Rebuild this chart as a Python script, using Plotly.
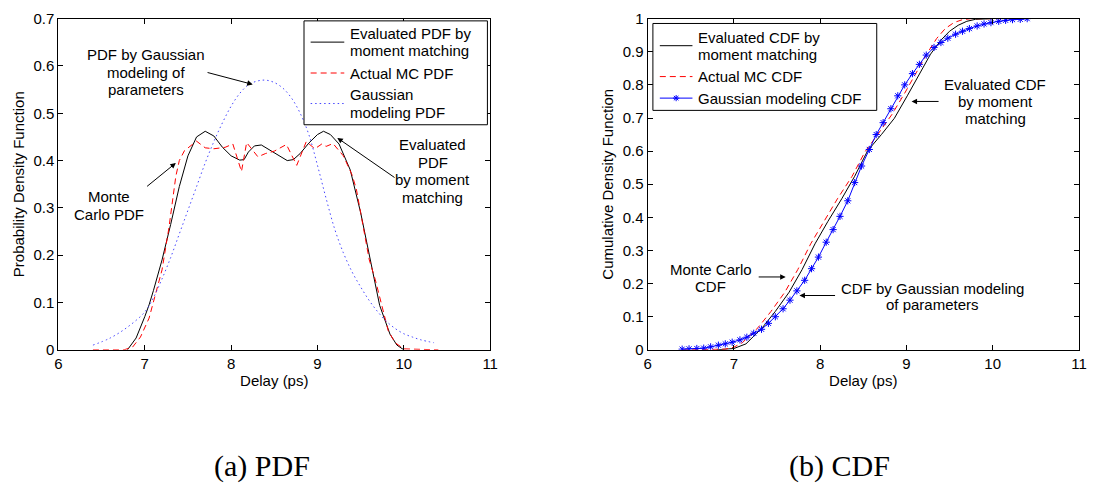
import plotly.graph_objects as go

# ---------------- data ----------------
pdf_eval_x = [6.8, 6.9, 7.0, 7.05, 7.1, 7.2, 7.3, 7.4, 7.5, 7.6, 7.7, 7.8, 7.9, 8.0, 8.1, 8.15,
              8.2, 8.27, 8.35, 8.45, 8.55, 8.65, 8.72, 8.8, 8.9, 9.0, 9.07, 9.15, 9.25, 9.38,
              9.5, 9.61, 9.72, 9.84, 9.92, 10.0]
pdf_eval_y = [0, 0.025, 0.07, 0.095, 0.125, 0.19, 0.265, 0.345, 0.41, 0.45, 0.462, 0.452, 0.428,
              0.41, 0.401, 0.402, 0.418, 0.431, 0.433, 0.422, 0.41, 0.40, 0.402, 0.415, 0.437,
              0.455, 0.462, 0.455, 0.435, 0.38, 0.29, 0.19, 0.094, 0.033, 0.01, 0]

pdf_mc_x = [6.4, 6.76, 6.86, 6.95, 7.05, 7.13, 7.2, 7.28, 7.36, 7.4, 7.46, 7.6, 7.7, 7.8, 7.93,
            8.02, 8.12, 8.18, 8.31, 8.4, 8.5, 8.64, 8.76, 8.87, 8.97, 9.05, 9.1, 9.18, 9.3, 9.4,
            9.45, 9.5, 9.6, 9.67, 9.75, 9.82, 9.9, 10.0, 10.4]
pdf_mc_y = [0, 0, 0.006, 0.027, 0.067, 0.122, 0.169, 0.258, 0.367, 0.40, 0.421, 0.441, 0.427,
            0.425, 0.428, 0.435, 0.377, 0.438, 0.408, 0.415, 0.42, 0.434, 0.39, 0.44, 0.425,
            0.435, 0.43, 0.436, 0.41, 0.37, 0.34, 0.29, 0.19, 0.148, 0.09, 0.04, 0.015, 0.002, 0]

pdf_gauss_x = [6.4, 6.6, 6.8, 7.0, 7.1, 7.2, 7.3, 7.4, 7.5, 7.6, 7.7, 7.8, 7.9, 8.0, 8.1, 8.2,
               8.3, 8.4, 8.5, 8.6, 8.7, 8.8, 8.9, 9.0, 9.1, 9.2, 9.3, 9.4, 9.5, 9.6, 9.7, 9.8,
               9.9, 10.0, 10.1, 10.2, 10.35]
pdf_gauss_y = [0.01, 0.025, 0.048, 0.08, 0.11, 0.15, 0.195, 0.245, 0.295, 0.345, 0.395, 0.44,
               0.48, 0.515, 0.542, 0.56, 0.568, 0.57, 0.565, 0.553, 0.532, 0.50, 0.455, 0.39,
               0.32, 0.255, 0.205, 0.165, 0.133, 0.104, 0.08, 0.06, 0.045, 0.034, 0.027, 0.021,
               0.015]

cdf_eval_x = [6.8, 6.95, 7.0, 7.14, 7.33, 7.48, 7.64, 7.79, 7.94, 8.09, 8.25, 8.40, 8.55, 8.71,
              8.86, 9.01, 9.16, 9.28, 9.4, 9.5, 9.6, 9.7, 9.8, 9.9, 10.0]
cdf_eval_y = [0, 0.002, 0.004, 0.018, 0.067, 0.116, 0.174, 0.242, 0.32, 0.388, 0.456, 0.524,
              0.601, 0.65, 0.699, 0.767, 0.835, 0.893, 0.935, 0.962, 0.98, 0.992, 0.998, 1.0, 1.0]

cdf_mc_x = [6.4, 6.8, 6.9, 7.0, 7.1, 7.28, 7.43, 7.59, 7.74, 7.89, 8.04, 8.2, 8.37, 8.52, 8.68,
            8.83, 8.98, 9.12, 9.24, 9.35, 9.45, 9.55, 9.65, 9.75, 10.35]
cdf_mc_y = [0, 0, 0.002, 0.008, 0.022, 0.067, 0.116, 0.174, 0.242, 0.32, 0.388, 0.456, 0.524,
            0.598, 0.655, 0.71, 0.775, 0.84, 0.895, 0.94, 0.97, 0.988, 0.997, 1.0, 1.0]

cdf_gauss_x = [6.40, 6.48, 6.57, 6.65, 6.73, 6.82, 6.90, 6.98, 7.07, 7.15, 7.23, 7.32, 7.40,
               7.48, 7.57, 7.65, 7.73, 7.82, 7.90, 7.98, 8.07, 8.15, 8.23, 8.32, 8.40, 8.48,
               8.57, 8.65, 8.73, 8.82, 8.90, 8.98, 9.07, 9.15, 9.23, 9.32, 9.40, 9.48, 9.57,
               9.65, 9.73, 9.82, 9.90, 9.98, 10.07, 10.15, 10.23, 10.32, 10.40]
cdf_gauss_y = [0.002, 0.003, 0.004, 0.005, 0.009, 0.014, 0.018, 0.023, 0.03, 0.038, 0.05, 0.062,
               0.08, 0.1, 0.124, 0.15, 0.178, 0.21, 0.245, 0.28, 0.325, 0.363, 0.403, 0.45,
               0.505, 0.555, 0.605, 0.65, 0.686, 0.728, 0.767, 0.8, 0.834, 0.862, 0.89, 0.913,
               0.928, 0.941, 0.953, 0.962, 0.97, 0.978, 0.984, 0.988, 0.992, 0.995, 0.997,
               0.998, 1.0]

x_ticks = [6, 7, 8, 9, 10, 11]
pdf_ticks = [0, 0.1, 0.2, 0.3, 0.4, 0.5, 0.6, 0.7]
pdf_tick_text = ["0", "0.1", "0.2", "0.3", "0.4", "0.5", "0.6", "0.7"]
cdf_ticks = [0, 0.1, 0.2, 0.3, 0.4, 0.5, 0.6, 0.7, 0.8, 0.9, 1.0]
cdf_tick_text = ["0", "0.1", "0.2", "0.3", "0.4", "0.5", "0.6", "0.7", "0.8", "0.9", "1"]

pdf_names = ["Evaluated PDF by|moment matching", "Actual MC PDF", "Gaussian|modeling PDF"]
cdf_names = ["Evaluated CDF by|moment matching", "Actual MC CDF", "Gaussian modeling CDF"]

# ---------------- figure ----------------
W, H = 1108, 493
FONT = "Liberation Sans, Arial, Helvetica, sans-serif"
FS = 15
BLACK, RED, BLUE, LBLUE = "black", "red", "blue", "rgb(70,70,255)"
DASH, DOT = "6px,4px", "1.5px,3px"


def px_x(p):
    return p / W


def px_y(p):
    return (H - p) / H


fig = go.Figure()

fig.add_trace(go.Scatter(x=pdf_eval_x, y=pdf_eval_y, mode="lines",
                         line=dict(color=BLACK, width=1), name=pdf_names[0].replace("|", " "),
                         xaxis="x", yaxis="y"))
fig.add_trace(go.Scatter(x=pdf_mc_x, y=pdf_mc_y, mode="lines",
                         line=dict(color=RED, width=1, dash=DASH), name=pdf_names[1],
                         xaxis="x", yaxis="y"))
fig.add_trace(go.Scatter(x=pdf_gauss_x, y=pdf_gauss_y, mode="lines", line_shape="spline",
                         line=dict(color=LBLUE, width=1, dash=DOT),
                         name=pdf_names[2].replace("|", " "), xaxis="x", yaxis="y"))

fig.add_trace(go.Scatter(x=cdf_eval_x, y=cdf_eval_y, mode="lines",
                         line=dict(color=BLACK, width=1), name=cdf_names[0].replace("|", " "),
                         xaxis="x2", yaxis="y2"))
fig.add_trace(go.Scatter(x=cdf_mc_x, y=cdf_mc_y, mode="lines",
                         line=dict(color=RED, width=1, dash=DASH), name=cdf_names[1],
                         xaxis="x2", yaxis="y2"))
fig.add_trace(go.Scatter(x=cdf_gauss_x, y=cdf_gauss_y, mode="lines+markers",
                         line=dict(color=BLUE, width=1),
                         marker=dict(symbol="asterisk-open", size=6, color=BLUE,
                                     line=dict(color=BLUE, width=1)),
                         name=cdf_names[2], xaxis="x2", yaxis="y2"))

axis_common = dict(showline=True, linecolor="black", linewidth=1, mirror="ticks",
                   ticks="inside", ticklen=5, tickcolor="black", tickwidth=1,
                   showgrid=False, zeroline=False,
                   tickfont=dict(family=FONT, size=FS, color="black"))

fig.update_layout(
    width=W, height=H, autosize=False, showlegend=False,
    margin=dict(l=0, r=0, t=0, b=0),
    paper_bgcolor="white", plot_bgcolor="white",
    font=dict(family=FONT, size=FS, color="black"),
    xaxis=dict(domain=[px_x(55), px_x(491.5)], range=[6, 11], tickvals=x_ticks,
               anchor="y", title=dict(text="Delay (ps)", standoff=4,
                                      font=dict(family=FONT, size=FS)), **axis_common),
    yaxis=dict(domain=[px_y(353), px_y(10)], range=[0, 0.7], tickvals=pdf_ticks,
               ticktext=pdf_tick_text, anchor="x",
               title=dict(text="Probability Density Function", standoff=5,
                          font=dict(family=FONT, size=FS)), **axis_common),
    xaxis2=dict(domain=[px_x(650.7), px_x(1086.7)], range=[6, 11], tickvals=x_ticks,
                anchor="y2", title=dict(text="Delay (ps)", standoff=4,
                                        font=dict(family=FONT, size=FS)), **axis_common),
    yaxis2=dict(domain=[px_y(353), px_y(10)], range=[0, 1], tickvals=cdf_ticks,
                ticktext=cdf_tick_text, anchor="x2",
                title=dict(text="Cumulative Density Function", standoff=5,
                           font=dict(family=FONT, size=FS)), **axis_common),
)

anns = []
shapes = []


def text_lines(cx, ys, lines, anchor="center"):
    for yy, t in zip(ys, lines):
        anns.append(dict(x=px_x(cx), y=px_y(yy), xref="paper", yref="paper", text=t,
                         showarrow=False, xanchor=anchor, yanchor="middle",
                         font=dict(family=FONT, size=FS, color="black")))


def arrow(hx, hy, tx, ty, xref, yref):
    anns.append(dict(x=hx, y=hy, ax=tx, ay=ty, xref=xref, yref=yref, axref=xref, ayref=yref,
                     text="", showarrow=True, arrowhead=2, arrowsize=1.1, arrowwidth=1,
                     arrowcolor="black", standoff=0, startstandoff=0))


def hline(x0, x1, y, color, dash="solid"):
    shapes.append(dict(type="line", xref="paper", yref="paper", x0=px_x(x0), x1=px_x(x1),
                       y0=px_y(y), y1=px_y(y), line=dict(color=color, width=1, dash=dash)))


def legend_box(x0, y0, x1, y1):
    shapes.append(dict(type="rect", xref="paper", yref="paper", x0=px_x(x0), x1=px_x(x1),
                       y0=px_y(y0), y1=px_y(y1), fillcolor="white",
                       line=dict(color="black", width=1), layer="above"))


# ----- annotations, left panel -----
text_lines(143.2, [47.3, 65.6, 83.3], ["PDF by Gaussian", "modeling of", "parameters"])
arrow(8.25, 0.561, 7.71, 0.587, "x", "y")
text_lines(106.5, [193.8, 212.4], ["Monte", "Carlo PDF"])
arrow(7.36, 0.395, 7.01, 0.343, "x", "y")
text_lines(433.5, [140.8, 159.4, 177.0, 195.2], ["Evaluated", "PDF", "by moment", "matching"])
arrow(9.23, 0.448, 9.91, 0.362, "x", "y")

# ----- annotations, right panel -----
text_lines(714.4, [269.7, 287.8], ["Monte Carlo", "CDF"])
arrow(7.60, 0.22, 7.27, 0.22, "x2", "y2")
text_lines(938.5, [289.2, 306.4], ["CDF by Gaussian modeling", "of parameters"])
arrow(7.76, 0.164, 8.19, 0.164, "x2", "y2")
text_lines(1002.1, [77.9, 95.8, 113.9], ["Evaluated CDF", "by moment", "matching"])
arrow(9.06, 0.75, 9.39, 0.75, "x2", "y2")

# ----- legend, left panel -----
legend_box(303.3, 12.3, 488.7, 119.9)
hline(310, 344, 34.3, BLACK)
hline(310, 344, 66.3, RED, DASH)
hline(310, 344, 97.9, LBLUE, DOT)
text_lines(348, [25.6, 43.3], pdf_names[0].split("|"), anchor="left")
text_lines(348, [66.3], [pdf_names[1]], anchor="left")
text_lines(348, [88.9, 107.2], pdf_names[2].split("|"), anchor="left")

# ----- legend, right panel -----
legend_box(656, 15, 882.3, 105)
hline(663, 696, 38.0, BLACK)
hline(663, 696, 70.0, RED, DASH)
hline(663, 696, 92.3, BLUE)
cx, cy, r = 679.5, 92.3, 3.2
for dx, dy in [(r, 0), (0, r), (r * 0.72, r * 0.72), (r * 0.72, -r * 0.72)]:
    shapes.append(dict(type="line", xref="paper", yref="paper",
                       x0=px_x(cx - dx), x1=px_x(cx + dx), y0=px_y(cy - dy), y1=px_y(cy + dy),
                       line=dict(color=BLUE, width=1)))
text_lines(700, [29.3, 46.7], cdf_names[0].split("|"), anchor="left")
text_lines(700, [70.0], [cdf_names[1]], anchor="left")
text_lines(700, [92.3], [cdf_names[2]], anchor="left")

# ----- captions -----
for cxp, cap in [(261, "(a) PDF"), (845, "(b) CDF")]:
    anns.append(dict(x=px_x(cxp), y=px_y(473), xref="paper", yref="paper", text=cap,
                     showarrow=False, xanchor="center", yanchor="middle",
                     font=dict(family="Liberation Serif, Times New Roman, serif", size=30,
                               color="black")))

fig.update_layout(annotations=anns, shapes=shapes)

fig.write_html("out.html")
